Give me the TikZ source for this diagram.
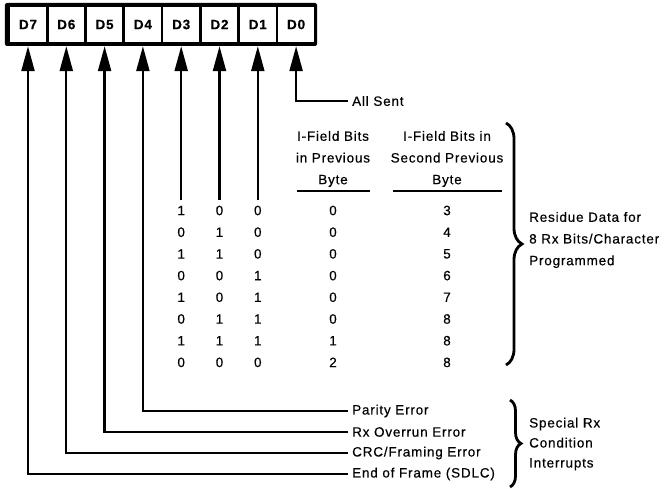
\documentclass[tikz,border=0pt]{standalone}
\usepackage{fontspec}
\setmainfont[LetterSpace=6,FakeBold=0.4]{Liberation Sans}
\usetikzlibrary{arrows.meta,decorations.pathreplacing}
\begin{document}
\begin{tikzpicture}[x=1bp,y=-1bp,
  txt/.style={font=\fontsize{13.5bp}{15bp}\selectfont, inner sep=0pt},
  lab/.style={txt, anchor=west},
  multi/.style={font=\fontsize{13.5bp}{21.7bp}\selectfont, inner sep=0pt, align=#1},
  cell/.style={fill=white, minimum width=35.5bp, minimum height=35bp, inner sep=0pt,
    font=\fontsize{13.5bp}{15bp}\selectfont\bfseries},
  conn/.style={line width=2.3bp},
  arr/.style={conn, -{Triangle[length=25bp,width=13bp]}},
  hrule/.style={line width=1.4bp},
  bigbrace/.style={decorate, decoration={brace, amplitude=#1}, line width=2.8bp}
]
\useasboundingbox (0,0) rectangle (670,489);
% register
\node[fill=black, rounded corners=2bp, minimum width=312bp, minimum height=43bp, inner sep=0pt] (reg) at (161,24.5) {};
\foreach \n [count=\i from 0] in {7,6,5,4,3,2,1,0}
  \node[cell] (d\n) at ({28+38.3*\i},24.5) {D\n};
% inputs D3..D1
\foreach \n in {3,2,1} {
  \coordinate (e\n) at (d\n.south |- 0,200);
  \draw[arr] (e\n) -- (d\n.south |- reg.south);
}
% All Sent
\node[lab] (allsent) at (352,101) {All Sent};
\draw[arr] ([xshift=-4bp]allsent.west) -| (d0.south |- reg.south);
% lower labels
\node[lab] (parity) at (352,411) {Parity Error};
\node[lab] (overrun) at (352,432) {Rx Overrun Error};
\node[lab] (crc) at (352,453) {CRC/Framing Error};
\node[lab] (eof) at (352,474) {End of Frame (SDLC)};
\draw[arr] ([xshift=-4bp]parity.west) -| (d4.south |- reg.south);
\draw[arr] ([xshift=-4bp]overrun.west) -| (d5.south |- reg.south);
\draw[arr] ([xshift=-4bp]crc.west) -| (d6.south |- reg.south);
\draw[arr] ([xshift=-4bp]eof.west) -| (d7.south |- reg.south);
% table headers
\node[multi=center] (h1) at (333,159) {I-Field Bits\\in Previous\\Byte};
\node[multi=center] (h2) at (447,159) {I-Field Bits in\\Second Previous\\Byte};
\draw[hrule] (297,191) -- (370,191);
\draw[hrule] (393,191) -- (502,191);
% table rows
\foreach \a/\b/\c/\p/\q [count=\k from 0] in
  {1/0/0/0/3, 0/1/0/0/4, 1/1/0/0/5, 0/0/1/0/6, 1/0/1/0/7, 0/1/1/0/8, 1/1/1/1/8, 0/0/0/2/8} {
  \node[txt] (r\k a) at (d3.center |- 0,{210.5+21.7*\k}) {\a};
  \node[txt] (r\k b) at (d2.center |- 0,{210.5+21.7*\k}) {\b};
  \node[txt] (r\k c) at (d1.center |- 0,{210.5+21.7*\k}) {\c};
  \node[txt] (r\k p) at (333,{210.5+21.7*\k}) {\p};
  \node[txt] (r\k q) at (447,{210.5+21.7*\k}) {\q};
}
% braces
\draw[bigbrace=16bp] (506,123) -- (506,365);
\node[multi=left, anchor=west] (resid) at (529,240) {Residue Data for\\8 Rx Bits/Character\\Programmed};
\draw[bigbrace=11bp] (510,400) -- (510,487);
\node[multi=left, anchor=west, font=\fontsize{13.5bp}{20bp}\selectfont] (special) at (529,444) {Special Rx\\Condition\\Interrupts};
\end{tikzpicture}
\end{document}
